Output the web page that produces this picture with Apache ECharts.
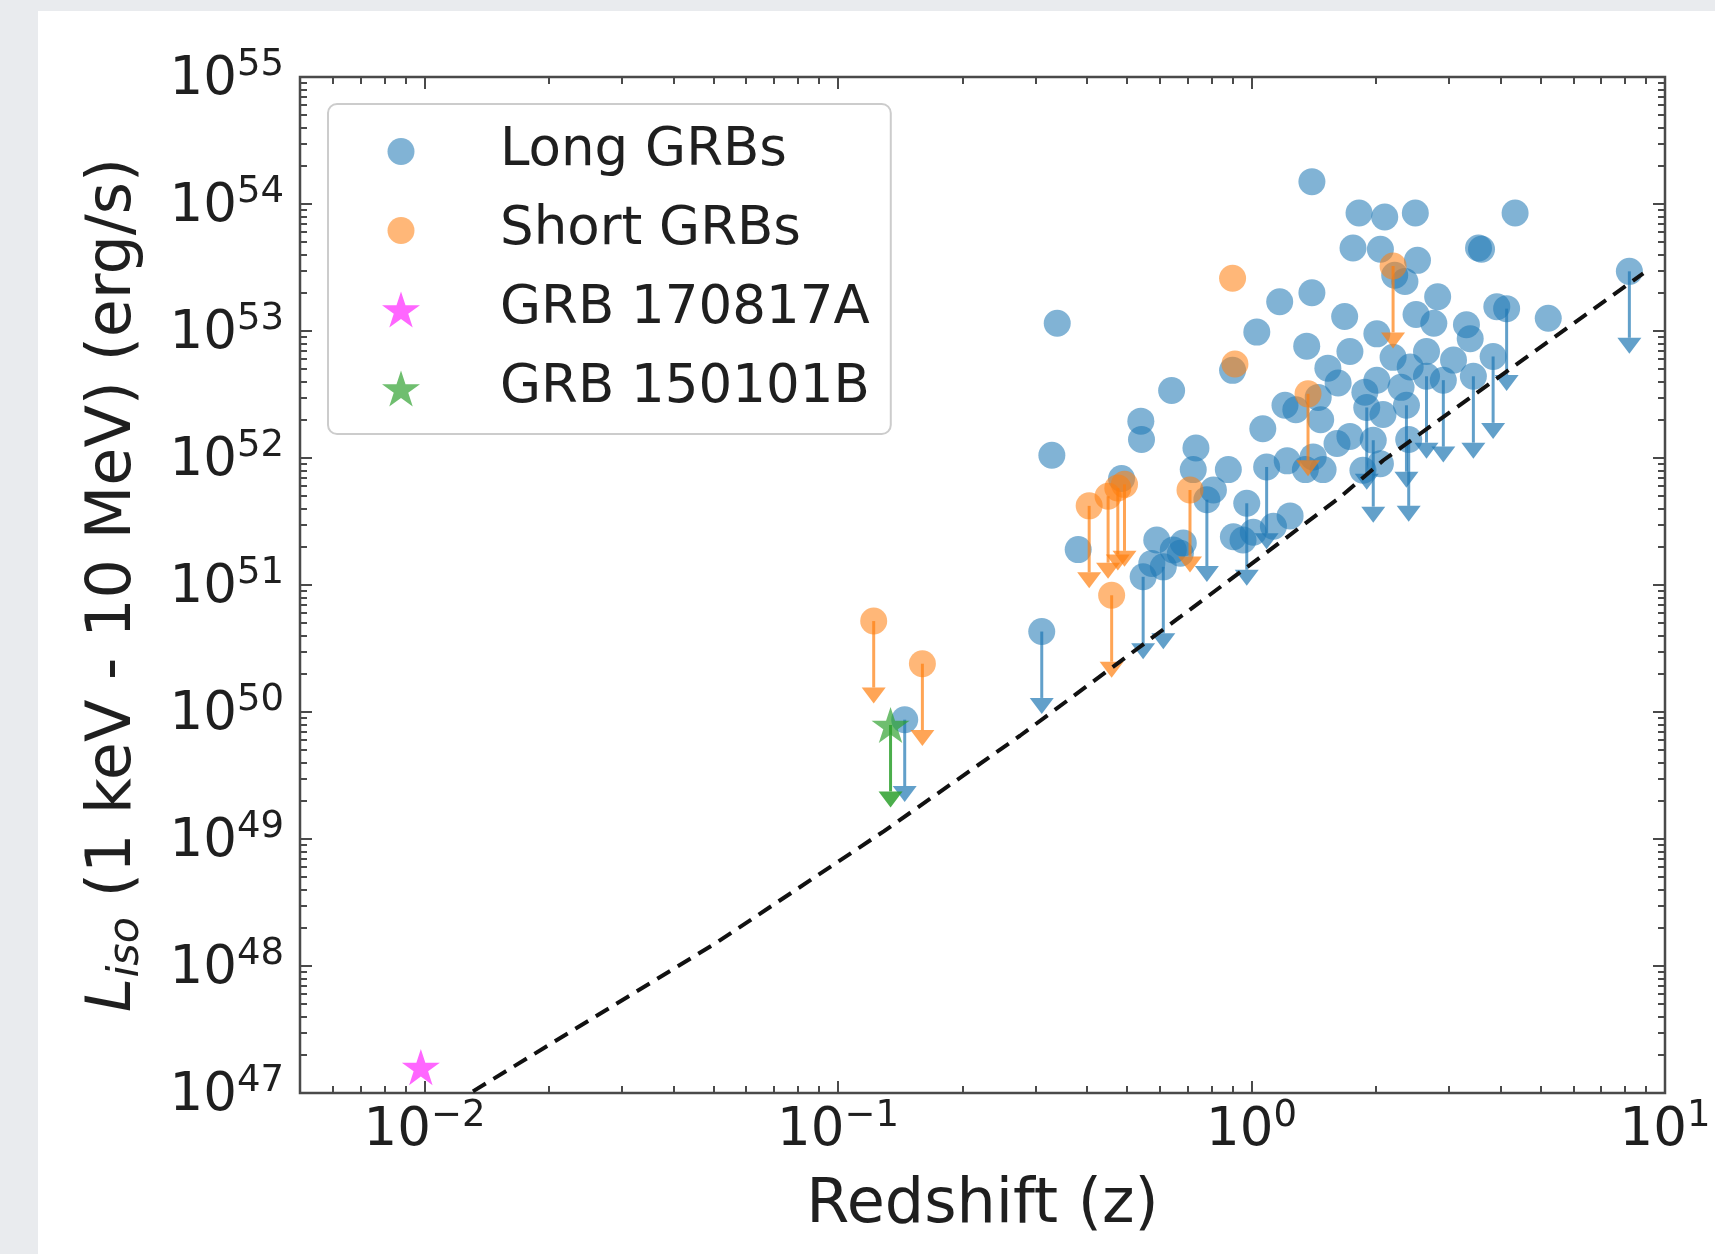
<!DOCTYPE html>
<html>
<head>
<meta charset="utf-8">
<script src="https://cdn.jsdelivr.net/npm/echarts@6.0.0/dist/echarts.min.js"></script>
<style>
html,body{margin:0;padding:0;background:#ffffff;}
#chart{width:1715px;height:1254px;}
</style>
</head>
<body>
<div id="chart"></div>
<script>
// ---------------- data ----------------
const xMajorTicks = [0.01, 0.1, 1, 10];
const yMajorTicks = [1e47, 1e48, 1e49, 1e50, 1e51, 1e52, 1e53, 1e54, 1e55];

// Long GRBs: redshift, luminosity, upper-limit flag
const longZ = [0.145, 0.311, 0.339, 0.329, 0.381, 0.485, 0.540, 0.542, 0.641, 0.734,
  0.590, 0.647, 0.547, 0.612, 0.574, 0.684, 0.673, 0.780, 0.723, 0.879,
  0.809, 1.088, 0.974, 0.904, 1.01, 1.13, 1.24, 1.35, 1.49, 1.22,
  1.41, 0.954, 1.40, 1.17, 1.40, 1.03, 1.36, 0.90, 1.53, 1.62,
  1.205, 1.28, 1.47, 1.065, 1.61, 1.82, 2.10, 2.49, 4.34, 1.76,
  2.05, 2.52, 3.54, 3.60, 2.22, 2.35, 8.2, 2.82, 3.92, 4.14,
  5.22, 2.50, 2.76, 2.01, 3.31, 3.38, 1.73, 2.20, 2.65, 2.42,
  3.08, 3.84, 2.91, 3.44, 2.01, 2.65, 1.90, 2.08, 2.37, 1.73,
  1.97, 2.40, 2.05, 1.86, 1.68, 1.45, 1.88, 2.30];
const longL = [8.7e49, 4.3e50, 1.15e53, 1.05e52, 1.9e51, 6.9e51, 1.95e52, 1.4e52, 3.4e52, 1.2e52,
  2.26e51, 1.89e51, 1.16e51, 1.39e51, 1.48e51, 2.14e51, 1.78e51, 4.7e51, 8.1e51, 8.1e51,
  5.6e51, 8.5e51, 4.4e51, 2.4e51, 2.6e51, 2.9e51, 3.5e51, 8.1e51, 8.1e51, 9.5e51,
  1.02e52, 2.26e51, 1.5e54, 1.7e53, 2.0e53, 9.8e52, 7.6e52, 4.9e52, 5.1e52, 3.9e52,
  2.6e52, 2.4e52, 2.0e52, 1.7e52, 1.3e52, 8.5e53, 7.9e53, 8.5e53, 8.5e53, 4.5e53,
  4.4e53, 3.6e53, 4.5e53, 4.4e53, 2.75e53, 2.45e53, 2.95e53, 1.86e53, 1.55e53, 1.5e53,
  1.26e53, 1.35e53, 1.15e53, 9.5e52, 1.12e53, 8.7e52, 6.9e52, 6.2e52, 6.9e52, 5.2e52,
  5.9e52, 6.3e52, 4.1e52, 4.4e52, 4.1e52, 4.4e52, 2.5e52, 2.2e52, 2.6e52, 1.48e52,
  1.38e52, 1.4e52, 9.0e51, 8.0e51, 1.3e53, 3.0e52, 3.3e52, 3.6e52];
const longUpper = [1, 1, 0, 0, 0, 0, 0, 0, 0, 0,
  0, 0, 1, 1, 0, 0, 0, 1, 0, 0,
  0, 1, 1, 0, 0, 0, 0, 0, 0, 0,
  0, 0, 0, 0, 0, 0, 0, 0, 0, 0,
  0, 0, 0, 0, 0, 0, 0, 0, 0, 0,
  0, 0, 0, 0, 0, 0, 1, 0, 0, 1,
  0, 0, 0, 0, 0, 0, 0, 0, 0, 0,
  0, 1, 1, 1, 0, 1, 1, 0, 1, 0,
  1, 1, 0, 0, 0, 0, 0, 0];

// Short GRBs
const shortZ = [0.122, 0.160, 0.405, 0.450, 0.475, 0.493, 0.459, 0.710, 0.90, 0.912, 1.37, 2.20];
const shortL = [5.2e50, 2.4e50, 4.2e51, 5.0e51, 5.8e51, 6.2e51, 8.3e50, 5.6e51, 2.6e53, 5.5e52, 3.2e52, 3.25e53];
const shortUpper = [1, 1, 1, 1, 1, 1, 1, 1, 0, 0, 1, 1];

// Individual events
const grb170817aZ = [0.0098];
const grb170817aL = [1.6e47];
const grb150101bZ = [0.134];
const grb150101bL = [7.9e49];
const grb150101bUpper = [1];

// Dashed sensitivity curve
const limitZ = [0.0131, 0.0512, 0.129, 0.2755, 0.672, 1.087, 1.637, 2.084, 4.065, 8.86];
const limitL = [1.03e47, 1.55e48, 1.15e49, 6.5e49, 5.6e50, 1.8e51, 4.9e51, 9.6e51, 4.6e52, 2.84e53];

// ---------------- styling ----------------
const FONT = 'DejaVu Sans';
const TXT = '#1f1f1f';
const AX = '#4a4a4a';
const BLUE = 'rgba(31,119,180,0.7)';
const ORANGE = 'rgba(255,127,14,0.7)';
const MAGENTA = 'rgba(255,0,255,0.75)';
const GREEN = 'rgba(44,160,44,0.85)';
const STAR = 'path://M0,-100L22.45,-30.9L95.1,-30.9L36.3,11.8L58.8,80.9L0,38.2L-58.8,80.9L-36.3,11.8L-95.1,-30.9L-22.45,-30.9Z';
const LEGEND_CIRCLE = 'path://M-19,-19M19,19M-13.5,0A13.5,13.5,0,1,1,13.5,0A13.5,13.5,0,1,1,-13.5,0Z';
const ARROW_DROP = 0.3;

function minorTicks(e0, e1, lo, hi) {
  const out = [];
  for (let e = e0; e < e1; e++) {
    for (let m = 2; m <= 9; m++) {
      const v = m * Math.pow(10, e);
      if (v > lo * 1.01 && v < hi * 0.99) out.push(v);
    }
  }
  return out;
}
const xMinorTicks = minorTicks(-3, 1, 0.005, 10);
const yMinorTicks = minorTicks(47, 55, 1e47, 1e55);

function pairs(xs, ys) { return xs.map((x, i) => [x, ys[i]]); }
function limits(xs, ys, flags) {
  const out = [];
  xs.forEach((x, i) => { if (flags[i]) out.push([x, ys[i]]); });
  return out;
}

function powLabel(v) {
  const e = Math.round(Math.log10(v));
  const s = (e < 0 ? '\u2212' + (-e) : '' + e);
  return '{b|10}{s|' + s + '}';
}

function arrowRenderer(color) {
  return function (params, api) {
    const z = api.value(0), L = api.value(1);
    const top = api.coord([z, L]);
    const base = api.coord([z, L * ARROW_DROP]);
    return {
      type: 'group',
      children: [
        { type: 'line', shape: { x1: top[0], y1: top[1], x2: base[0], y2: base[1] },
          style: { stroke: color, lineWidth: 3 } },
        { type: 'polygon', shape: { points: [[base[0] - 12, base[1]], [base[0] + 12, base[1]], [base[0], base[1] + 16]] },
          style: { fill: color } }
      ]
    };
  };
}

const labelRich = (supLH) => ({
  b: { fontSize: 53, fontFamily: FONT, color: TXT, lineHeight: 60, verticalAlign: 'bottom' },
  s: { fontSize: 37, fontFamily: FONT, color: TXT, lineHeight: supLH, verticalAlign: 'top' }
});

function logAxis(kind, grid, pos, ticks, len, withLabels) {
  const isX = kind === 'x';
  const lo = isX ? 0.005 : 1e47;
  const hi = isX ? 10 : 1e55;
  // keep ticks that sit exactly on the axis ends inside the axis extent
  const tv = ticks.map(v => (v >= hi ? v * (1 - 1e-9) : (v <= lo ? v * (1 + 1e-9) : v)));
  const a = {
    gridIndex: grid,
    type: 'log',
    logBase: 10,
    min: lo,
    max: hi,
    position: pos,
    axisLine: { show: false },
    splitLine: { show: false },
    axisTick: { show: true, inside: true, length: len, customValues: tv,
      lineStyle: { color: AX, width: 2 } },
    axisLabel: { show: false }
  };
  if (withLabels) {
    a.axisLabel = {
      show: true,
      customValues: tv,
      formatter: powLabel,
      margin: isX ? 5 : 16,
      rich: labelRich(isX ? 40 : 30)
    };
  }
  return a;
}

const xAxes = [
  logAxis('x', 0, 'bottom', xMajorTicks, 12, true),
  logAxis('x', 0, 'top', xMajorTicks, 12, false),
  logAxis('x', 1, 'bottom', xMinorTicks, 7, false),
  logAxis('x', 1, 'top', xMinorTicks, 7, false)
];
Object.assign(xAxes[0], {
  name: 'Redshift (z)', nameLocation: 'middle', nameGap: 82,
  nameTextStyle: { fontSize: 62, fontFamily: FONT, color: TXT }
});
const yAxes = [
  logAxis('y', 0, 'left', yMajorTicks, 12, true),
  logAxis('y', 0, 'right', yMajorTicks, 12, false),
  logAxis('y', 1, 'left', yMinorTicks, 7, false),
  logAxis('y', 1, 'right', yMinorTicks, 7, false)
];
Object.assign(yAxes[0], {
  name: '{i|L}{sub|iso}{n| (1 keV - 10 MeV) (erg/s)}',
  nameLocation: 'middle', nameGap: 152, nameRotate: 90,
  nameTextStyle: {
    rich: {
      i: { fontSize: 62, fontFamily: FONT, fontStyle: 'italic', color: TXT, lineHeight: 68 },
      sub: { fontSize: 43, fontFamily: FONT, fontStyle: 'italic', color: TXT, lineHeight: 42, verticalAlign: 'bottom' },
      n: { fontSize: 62, fontFamily: FONT, color: TXT, lineHeight: 68 }
    }
  }
});

const chart = echarts.init(document.getElementById('chart'), null, { renderer: 'canvas' });
chart.setOption({
  animation: false,
  backgroundColor: '#ffffff',
  graphic: [
    { type: 'rect', left: 0, top: 0, shape: { width: 1715, height: 11 }, style: { fill: '#e9ebee' }, silent: true },
    { type: 'rect', left: 0, top: 0, shape: { width: 38, height: 1254 }, style: { fill: '#e9ebee' }, silent: true }
  ],
  grid: [
    { left: 300, top: 77, width: 1365, height: 1016, show: true, borderColor: AX, borderWidth: 2.5, backgroundColor: '#ffffff' },
    { left: 300, top: 77, width: 1365, height: 1016, show: false }
  ],
  xAxis: xAxes,
  yAxis: yAxes,
  legend: {
    left: 328, top: 104,
    orient: 'vertical',
    padding: [21, 21, 19, 54],
    itemWidth: 38, itemHeight: 38, itemGap: 26,
    backgroundColor: 'rgba(255,255,255,0.8)',
    borderColor: '#cccccc', borderWidth: 2, borderRadius: 9,
    selectedMode: false,
    formatter: name => '{g| }{t|' + name + '}',
    textStyle: {
      rich: {
        g: { width: 75 },
        t: { fontSize: 53, fontFamily: FONT, color: TXT, lineHeight: 60 }
      }
    },
    data: [
      { name: 'Long GRBs', icon: LEGEND_CIRCLE },
      { name: 'Short GRBs', icon: LEGEND_CIRCLE },
      { name: 'GRB 170817A', icon: STAR },
      { name: 'GRB 150101B', icon: STAR }
    ]
  },
  series: [
    { name: 'Long GRBs', type: 'scatter', xAxisIndex: 0, yAxisIndex: 0,
      data: pairs(longZ, longL), symbol: 'circle', symbolSize: 27,
      itemStyle: { color: BLUE }, z: 3 },
    { name: 'Long GRB limits', type: 'custom', xAxisIndex: 0, yAxisIndex: 0,
      data: limits(longZ, longL, longUpper), encode: { x: 0, y: 1 },
      renderItem: arrowRenderer(BLUE), z: 3 },
    { name: 'Short GRBs', type: 'scatter', xAxisIndex: 0, yAxisIndex: 0,
      data: pairs(shortZ, shortL), symbol: 'circle', symbolSize: 27,
      itemStyle: { color: ORANGE }, z: 4 },
    { name: 'Short GRB limits', type: 'custom', xAxisIndex: 0, yAxisIndex: 0,
      data: limits(shortZ, shortL, shortUpper), encode: { x: 0, y: 1 },
      renderItem: arrowRenderer(ORANGE), z: 4 },
    { name: 'GRB 170817A', type: 'scatter', xAxisIndex: 0, yAxisIndex: 0,
      data: pairs(grb170817aZ, grb170817aL), symbol: STAR, symbolSize: 38, symbolKeepAspect: true,
      itemStyle: { color: MAGENTA }, z: 5 },
    { name: 'GRB 150101B', type: 'scatter', xAxisIndex: 0, yAxisIndex: 0,
      data: pairs(grb150101bZ, grb150101bL), symbol: STAR, symbolSize: 38, symbolKeepAspect: true,
      itemStyle: { color: GREEN }, z: 5 },
    { name: 'GRB 150101B limit', type: 'custom', xAxisIndex: 0, yAxisIndex: 0,
      data: limits(grb150101bZ, grb150101bL, grb150101bUpper), encode: { x: 0, y: 1 },
      renderItem: arrowRenderer(GREEN), z: 5 },
    { name: 'Sensitivity', type: 'line', xAxisIndex: 0, yAxisIndex: 0,
      data: pairs(limitZ, limitL), showSymbol: false, symbol: 'none',
      lineStyle: { color: '#111111', width: 4, type: [15, 9] }, z: 6, silent: true }
  ]
});
</script>
</body>
</html>
